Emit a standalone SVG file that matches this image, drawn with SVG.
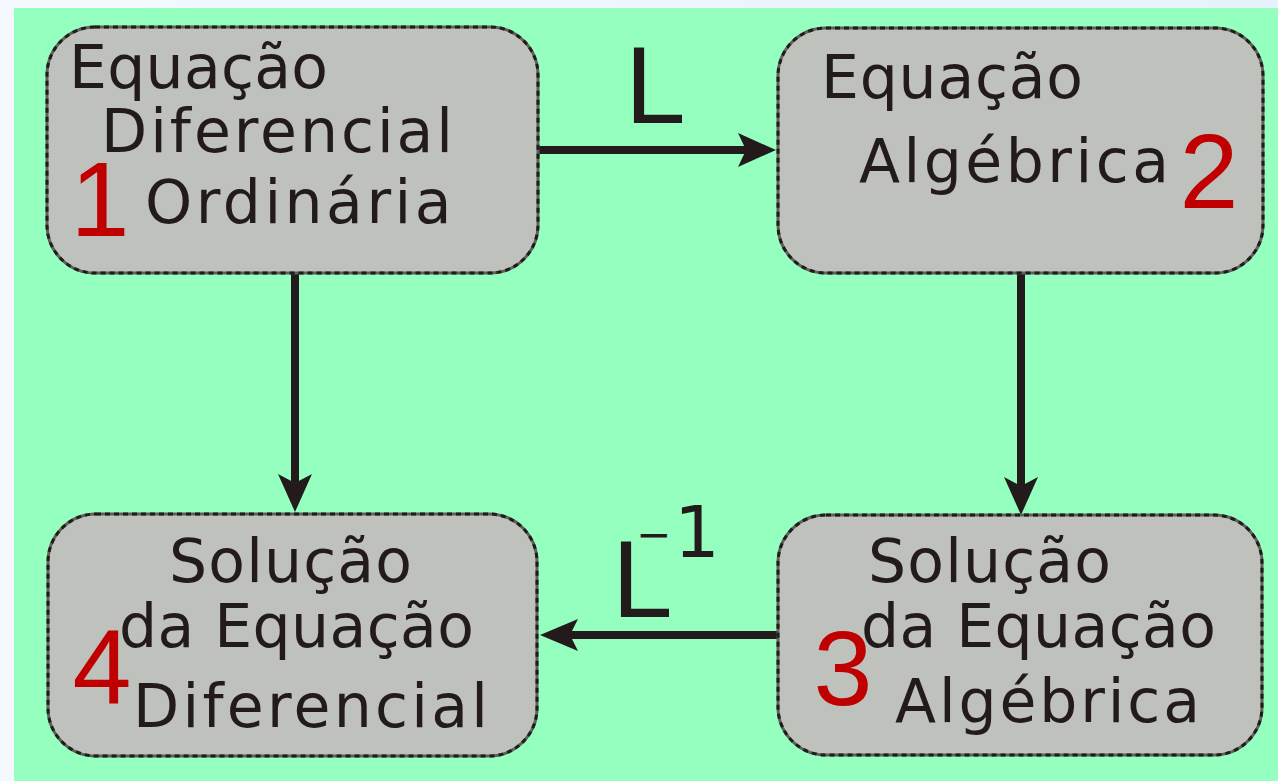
<svg xmlns="http://www.w3.org/2000/svg" width="1278" height="781" viewBox="0 0 1278 781">
<defs>
<linearGradient id="bg" x1="0" y1="0" x2="1" y2="0">
<stop offset="0" stop-color="#F4F9FF"/>
<stop offset="1" stop-color="#E6F2FC"/>
</linearGradient>
<style>
.box{fill:#BFC1BD;stroke:#5B6359;stroke-width:3}
.boxd{fill:none;stroke:#231A1C;stroke-width:3;stroke-dasharray:5 4}
.t{font-family:"DejaVu Sans",sans-serif;font-size:60px;fill:#231A1C}
.n{font-family:"Liberation Sans",Arial,sans-serif;font-size:106px;fill:#C00000;text-anchor:middle}
.lab{font-family:"Liberation Sans",Arial,sans-serif;font-size:109px;fill:#231A1C}
.ln{stroke:#231A1C;stroke-width:8;fill:none}
.hd{fill:#231A1C}
</style>
</defs>
<rect x="0" y="0" width="1278" height="781" fill="url(#bg)"/>
<rect x="14" y="8" width="1264" height="773" fill="#94FFBE"/>

<g id="connectors">
<line class="ln" x1="538" y1="150" x2="748" y2="150"/>
<polygon class="hd" points="776,150 738,133 746,150 738,167"/>
<line class="ln" x1="778" y1="635" x2="570" y2="635"/>
<polygon class="hd" points="540,635 578,619 570,635 578,651"/>
<line class="ln" x1="295" y1="273" x2="295" y2="485"/>
<polygon class="hd" points="295,512 278,474 295,483 312,474"/>
<line class="ln" x1="1021" y1="273" x2="1021" y2="488"/>
<polygon class="hd" points="1021,515 1004,477 1021,486 1038,477"/>
<text class="lab" x="625" y="123">L</text>
<text class="lab"><tspan x="612" y="617">L</tspan><tspan x="636" y="549" style="font-family:'DejaVu Sans',sans-serif;font-size:42px">−</tspan><tspan x="674" y="557" style="font-family:'DejaVu Sans',sans-serif;font-size:72px">1</tspan></text>
</g>

<g id="node1">
<rect class="box" x="47" y="27" width="491" height="246" rx="48"/>
<rect class="boxd" x="47" y="27" width="491" height="246" rx="48"/>
<text class="t" x="69" y="88" textLength="259" lengthAdjust="spacing">Equação</text>
<text class="t" x="101" y="152" textLength="352" lengthAdjust="spacing">Diferencial</text>
<text class="t"><tspan x="100" y="236" style="font-family:'Liberation Sans',Arial,sans-serif;font-size:106px;fill:#C00000;text-anchor:middle">1</tspan><tspan x="145" y="223" letter-spacing="3.5">Ordinária</tspan></text>
</g>

<g id="node2">
<rect class="box" x="778" y="28" width="485" height="245" rx="48"/>
<rect class="boxd" x="778" y="28" width="485" height="245" rx="48"/>
<text class="t" x="821" y="98" textLength="262" lengthAdjust="spacing">Equação</text>
<text class="t" x="859" y="182" textLength="310" lengthAdjust="spacing">Algébrica</text>
<text class="n" x="1209" y="208">2</text>
</g>

<g id="node3">
<rect class="box" x="778" y="515" width="484" height="240" rx="48"/>
<rect class="boxd" x="778" y="515" width="484" height="240" rx="48"/>
<text class="t" x="868" y="582" textLength="243" lengthAdjust="spacing">Solução</text>
<text class="t" x="861" y="647" textLength="355" lengthAdjust="spacing">da Equação</text>
<text class="t" x="895" y="722" textLength="305" lengthAdjust="spacing">Algébrica</text>
<text class="n" x="843" y="705">3</text>
</g>

<g id="node4">
<rect class="box" x="48" y="514" width="489" height="242" rx="48"/>
<rect class="boxd" x="48" y="514" width="489" height="242" rx="48"/>
<text class="t" x="169" y="582" textLength="243" lengthAdjust="spacing">Solução</text>
<text class="t" x="119" y="647" textLength="355" lengthAdjust="spacing">da Equação</text>
<text class="t" x="133" y="727" textLength="355" lengthAdjust="spacing">Diferencial</text>
<text class="n" x="102" y="704">4</text>
</g>
</svg>
